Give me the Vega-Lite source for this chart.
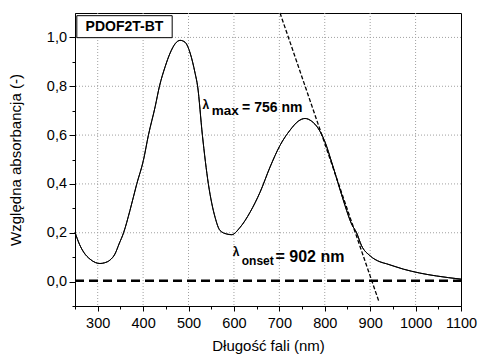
{
  "$schema": "https://vega.github.io/schema/vega-lite/v6.json",
  "width": 386,
  "height": 293,
  "autosize": {"type": "none"},
  "padding": {"left": 75, "top": 13, "right": 20, "bottom": 51},
  "background": "white",
  "config": {
    "font": "Liberation Sans",
    "view": {"stroke": "black", "strokeWidth": 1},
    "axis": {
      "domainColor": "black",
      "tickColor": "black",
      "labelColor": "black",
      "titleColor": "black",
      "labelFont": "Liberation Sans",
      "titleFont": "Liberation Sans",
      "labelFontSize": 14.5,
      "titleFontSize": 15,
      "titleFontWeight": "normal",
      "grid": false
    }
  },
  "datasets": {
    "spectrum": [
      {"wl": 250, "abs": 0.202},
      {"wl": 260, "abs": 0.152},
      {"wl": 270, "abs": 0.118},
      {"wl": 283, "abs": 0.092},
      {"wl": 295, "abs": 0.078},
      {"wl": 305, "abs": 0.074},
      {"wl": 315, "abs": 0.077},
      {"wl": 327, "abs": 0.088},
      {"wl": 338, "abs": 0.113},
      {"wl": 347, "abs": 0.154},
      {"wl": 357, "abs": 0.2},
      {"wl": 371, "abs": 0.291},
      {"wl": 386, "abs": 0.4},
      {"wl": 400.7, "abs": 0.497},
      {"wl": 411.7, "abs": 0.6},
      {"wl": 426.5, "abs": 0.716},
      {"wl": 436, "abs": 0.8},
      {"wl": 448.5, "abs": 0.88},
      {"wl": 459.5, "abs": 0.936},
      {"wl": 470.5, "abs": 0.974},
      {"wl": 481.5, "abs": 0.988},
      {"wl": 492.5, "abs": 0.98},
      {"wl": 503.5, "abs": 0.936},
      {"wl": 514.5, "abs": 0.853},
      {"wl": 520, "abs": 0.8},
      {"wl": 530.5, "abs": 0.6},
      {"wl": 543.7, "abs": 0.4},
      {"wl": 558.5, "abs": 0.263},
      {"wl": 569.5, "abs": 0.209},
      {"wl": 584, "abs": 0.195},
      {"wl": 595, "abs": 0.192},
      {"wl": 613.5, "abs": 0.222},
      {"wl": 635.5, "abs": 0.284},
      {"wl": 657.5, "abs": 0.366},
      {"wl": 679.5, "abs": 0.469},
      {"wl": 701.5, "abs": 0.558},
      {"wl": 723.5, "abs": 0.62},
      {"wl": 741.7, "abs": 0.657},
      {"wl": 756.5, "abs": 0.668},
      {"wl": 771, "abs": 0.657},
      {"wl": 785.7, "abs": 0.627},
      {"wl": 800.5, "abs": 0.572},
      {"wl": 815, "abs": 0.49},
      {"wl": 829.8, "abs": 0.4},
      {"wl": 844.5, "abs": 0.312},
      {"wl": 859, "abs": 0.236},
      {"wl": 870, "abs": 0.2},
      {"wl": 881, "abs": 0.147},
      {"wl": 899.5, "abs": 0.106},
      {"wl": 921.5, "abs": 0.081},
      {"wl": 936, "abs": 0.073},
      {"wl": 973, "abs": 0.051},
      {"wl": 1009, "abs": 0.035},
      {"wl": 1046, "abs": 0.023},
      {"wl": 1100, "abs": 0.01}
    ],
    "xgrid": [
      {"wl": 300}, {"wl": 400}, {"wl": 500}, {"wl": 600}, {"wl": 700},
      {"wl": 800}, {"wl": 900}, {"wl": 1000}
    ],
    "ygrid": [
      {"abs": 0.2}, {"abs": 0.4}, {"abs": 0.6}, {"abs": 0.8}, {"abs": 1.0}
    ],
    "baseline": [
      {"wl": 250, "abs": 0.003},
      {"wl": 1100, "abs": 0.003}
    ],
    "tangent": [
      {"wl": 701.5, "abs": 1.1},
      {"wl": 920, "abs": -0.086}
    ],
    "box": [
      {"x1": 254, "x2": 464, "y1": 0.999, "y2": 1.089, "xc": 359, "yc": 1.044, "label": "PDOF2T-BT"}
    ],
    "annotations": [
      {"part": "lambda", "x": 531, "y": 0.706, "text": "λ"},
      {"part": "sub1", "x": 551, "y": 0.682, "text": "max"},
      {"part": "main1", "x": 618, "y": 0.693, "text": "= 756 nm"},
      {"part": "lambda", "x": 597.4, "y": 0.103, "text": "λ"},
      {"part": "sub2", "x": 617.2, "y": 0.0675, "text": "onset"},
      {"part": "main2", "x": 691.5, "y": 0.081, "text": "= 902 nm"}
    ]
  },
  "resolve": {"axis": {"x": "independent", "y": "independent"}},
  "layer": [
    {
      "data": {"name": "spectrum"},
      "mark": {"type": "line", "color": "black", "strokeWidth": 1, "interpolate": "monotone"},
      "encoding": {
        "x": {
          "field": "wl", "type": "quantitative",
          "scale": {"domain": [250, 1100], "nice": false, "zero": false},
          "axis": {
            "title": "Długość fali (nm)",
            "values": [300, 400, 500, 600, 700, 800, 900, 1000, 1100],
            "format": "d",
            "tickSize": 5,
            "labelPadding": 5,
            "titlePadding": 9,
            "grid": false,
            "labelFlush": false
          }
        },
        "y": {
          "field": "abs", "type": "quantitative",
          "scale": {"domain": [-0.1, 1.1], "nice": false, "zero": false},
          "axis": {
            "title": "Względna absorbancja (-)",
            "values": [0, 0.2, 0.4, 0.6, 0.8, 1.0],
            "labelExpr": "replace(format(datum.value, '.1f'), '.', ',')",
            "tickSize": 6,
            "labelPadding": 2.5,
            "titlePadding": 23,
            "grid": false
          }
        }
      }
    },
    {
      "data": {"name": "xgrid"},
      "mark": {"type": "rule", "color": "#a0a0a0", "strokeWidth": 1, "strokeDash": [1, 2]},
      "encoding": {
        "x": {"field": "wl", "type": "quantitative", "axis": null}
      }
    },
    {
      "data": {"name": "ygrid"},
      "mark": {"type": "rule", "color": "#a0a0a0", "strokeWidth": 1, "strokeDash": [1, 2]},
      "encoding": {
        "y": {"field": "abs", "type": "quantitative", "axis": null}
      }
    },
    {
      "data": {"name": "spectrum"},
      "mark": {"type": "line", "color": "black", "strokeWidth": 1, "interpolate": "monotone"},
      "encoding": {
        "x": {"field": "wl", "type": "quantitative", "axis": null},
        "y": {"field": "abs", "type": "quantitative", "axis": null}
      }
    },
    {
      "data": {"name": "baseline"},
      "mark": {"type": "line", "color": "black", "strokeWidth": 2.5, "strokeDash": [9, 5]},
      "encoding": {
        "x": {
          "field": "wl", "type": "quantitative",
          "axis": {
            "orient": "bottom",
            "values": [250, 350, 450, 550, 650, 750, 850, 950, 1050],
            "labels": false, "title": null, "grid": false, "domain": false,
            "tickSize": 3
          }
        },
        "y": {
          "field": "abs", "type": "quantitative",
          "axis": {
            "orient": "left",
            "values": [-0.1, 0.1, 0.3, 0.5, 0.7, 0.9],
            "labels": false, "title": null, "grid": false, "domain": false,
            "tickSize": 3
          }
        }
      }
    },
    {
      "data": {"name": "tangent"},
      "mark": {"type": "line", "color": "black", "strokeWidth": 1.3, "strokeDash": [4, 2]},
      "encoding": {
        "x": {"field": "wl", "type": "quantitative", "axis": null},
        "y": {"field": "abs", "type": "quantitative", "axis": null}
      }
    },
    {
      "data": {"name": "box"},
      "mark": {"type": "rect", "fill": "white", "stroke": "black", "strokeWidth": 1},
      "encoding": {
        "x": {"field": "x1", "type": "quantitative", "axis": null},
        "x2": {"field": "x2"},
        "y": {"field": "y1", "type": "quantitative", "axis": null},
        "y2": {"field": "y2"}
      }
    },
    {
      "data": {"name": "box"},
      "mark": {"type": "text", "fontWeight": "bold", "fontSize": 14, "color": "black", "align": "center", "baseline": "middle", "font": "Liberation Sans"},
      "encoding": {
        "x": {"field": "xc", "type": "quantitative", "axis": null},
        "y": {"field": "yc", "type": "quantitative", "axis": null},
        "text": {"field": "label"}
      }
    },
    {
      "data": {"name": "annotations"},
      "transform": [{"filter": "datum.part === 'lambda'"}],
      "mark": {"type": "text", "fontWeight": "bold", "fontSize": 12, "color": "black", "align": "left", "baseline": "alphabetic", "font": "Liberation Sans"},
      "encoding": {
        "x": {"field": "x", "type": "quantitative", "axis": null},
        "y": {"field": "y", "type": "quantitative", "axis": null},
        "text": {"field": "text"}
      }
    },
    {
      "data": {"name": "annotations"},
      "transform": [{"filter": "datum.part === 'sub1'"}],
      "mark": {"type": "text", "fontWeight": "bold", "fontSize": 13.5, "color": "black", "align": "left", "baseline": "alphabetic", "font": "Liberation Sans"},
      "encoding": {
        "x": {"field": "x", "type": "quantitative", "axis": null},
        "y": {"field": "y", "type": "quantitative", "axis": null},
        "text": {"field": "text"}
      }
    },
    {
      "data": {"name": "annotations"},
      "transform": [{"filter": "datum.part === 'main1'"}],
      "mark": {"type": "text", "fontWeight": "bold", "fontSize": 14, "color": "black", "align": "left", "baseline": "alphabetic", "font": "Liberation Sans"},
      "encoding": {
        "x": {"field": "x", "type": "quantitative", "axis": null},
        "y": {"field": "y", "type": "quantitative", "axis": null},
        "text": {"field": "text"}
      }
    },
    {
      "data": {"name": "annotations"},
      "transform": [{"filter": "datum.part === 'sub2'"}],
      "mark": {"type": "text", "fontWeight": "bold", "fontSize": 12, "color": "black", "align": "left", "baseline": "alphabetic", "font": "Liberation Sans"},
      "encoding": {
        "x": {"field": "x", "type": "quantitative", "axis": null},
        "y": {"field": "y", "type": "quantitative", "axis": null},
        "text": {"field": "text"}
      }
    },
    {
      "data": {"name": "annotations"},
      "transform": [{"filter": "datum.part === 'main2'"}],
      "mark": {"type": "text", "fontWeight": "bold", "fontSize": 16, "color": "black", "align": "left", "baseline": "alphabetic", "font": "Liberation Sans"},
      "encoding": {
        "x": {"field": "x", "type": "quantitative", "axis": null},
        "y": {"field": "y", "type": "quantitative", "axis": null},
        "text": {"field": "text"}
      }
    }
  ]
}
